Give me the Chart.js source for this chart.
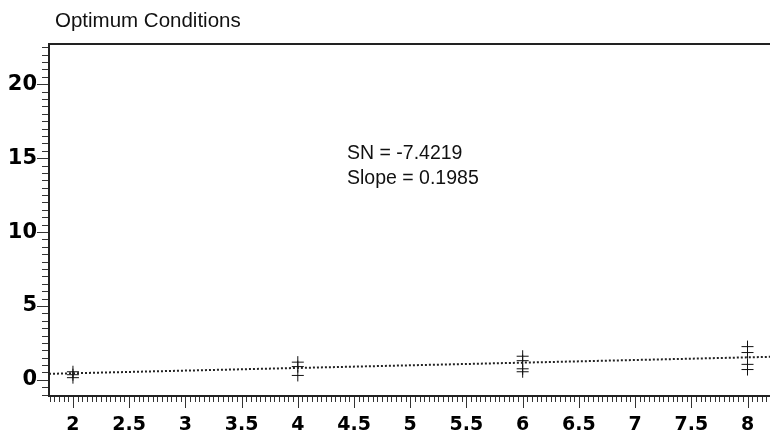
<!DOCTYPE html>
<html>
<head>
<meta charset="utf-8">
<script src="https://cdn.jsdelivr.net/npm/chart.js@4.4.0/dist/chart.umd.min.js"></script>
<style>
  body { margin: 0; background: #fff; overflow: hidden; }
  canvas { display: block; }
</style>
</head>
<body>
<canvas id="chart" width="770" height="438"></canvas>
<script>
const chartTitle = 'Optimum Conditions';
const noteLines = ['SN = -7.4219', 'Slope = 0.1985'];

// observations: dose level and measured response
const doses = [2, 2, 2, 4, 4, 4, 6, 6, 6, 6, 8, 8, 8, 8];
const responses = [0.55, 0.35, 0.15, 1.2, 0.9, 0.3, 1.6, 1.3, 0.75, 0.55, 2.25, 1.85, 1.05, 0.7];

// fitted line, read at the left and right edge of the plot
const trendX = [1.787, 8.2];
const trendY = [0.41, 1.56];

const xMin = 1.787, xMax = 8.2;
const yMin = -1.09, yMax = 22.72;

const points = doses.map((d, i) => ({ x: d, y: responses[i] }));
const trend = trendX.map((x, i) => ({ x: x, y: trendY[i] }));

const tickFont = '"DejaVu Sans", Verdana, sans-serif';
const textFont = '"Liberation Sans", Arial, sans-serif';

const frame = {
    id: 'frame',
    afterDraw(chart) {
        const ctx = chart.ctx;
        const area = chart.chartArea;
        const xs = chart.scales.x;
        const ys = chart.scales.y;
        ctx.save();

        // top border
        ctx.strokeStyle = '#222';
        ctx.lineWidth = 2;
        ctx.beginPath();
        ctx.moveTo(area.left - 1, area.top);
        ctx.lineTo(area.right, area.top);
        ctx.stroke();

        // y ticks every 0.5, long every 5
        ctx.lineWidth = 1;
        ctx.strokeStyle = '#333';
        for (let i = Math.ceil(yMin * 2); i <= Math.floor(yMax * 2); i++) {
            const py = Math.round(ys.getPixelForValue(i / 2)) + 0.5;
            const len = i % 10 === 0 ? 11 : 6;
            ctx.beginPath();
            ctx.moveTo(area.left - 1 - len, py);
            ctx.lineTo(area.left - 1, py);
            ctx.stroke();
        }

        // x ticks, 12 per half unit, long every 0.5
        for (let i = Math.ceil(xMin * 24); i <= Math.floor(xMax * 24); i++) {
            const px = Math.round(xs.getPixelForValue(i / 24)) + 0.5;
            const len = i % 12 === 0 ? 11 : 5;
            ctx.beginPath();
            ctx.moveTo(px, area.bottom + 1);
            ctx.lineTo(px, area.bottom + 1 + len);
            ctx.stroke();
        }

        // title
        ctx.fillStyle = '#111';
        ctx.font = '20.5px ' + textFont;
        ctx.textAlign = 'left';
        ctx.textBaseline = 'alphabetic';
        ctx.fillText(chartTitle, 55, 27);

        // annotation
        ctx.font = '19.5px ' + textFont;
        ctx.fillText(noteLines[0], 347, 159);
        ctx.fillText(noteLines[1], 347, 184);
        ctx.restore();
    }
};

new Chart(document.getElementById('chart'), {
    type: 'scatter',
    data: {
        datasets: [
            {
                label: 'Fit',
                type: 'line',
                data: trend,
                borderColor: '#222',
                borderWidth: 2,
                borderDash: [2, 2],
                pointRadius: 0,
                fill: false
            },
            {
                label: 'Observed',
                data: points,
                pointStyle: 'cross',
                pointRadius: 6,
                borderColor: '#111',
                backgroundColor: '#111',
                borderWidth: 1
            }
        ]
    },
    options: {
        responsive: false,
        animation: false,
        layout: { autoPadding: false, padding: { top: 44, right: 0, left: 0, bottom: 0 } },
        plugins: {
            legend: { display: false },
            tooltip: { enabled: false }
        },
        scales: {
            x: {
                type: 'linear',
                min: xMin,
                max: xMax,
                grid: { display: false },
                border: { display: true, color: '#222', width: 2 },
                ticks: {
                    stepSize: 0.5,
                    includeBounds: false,
                    autoSkip: false,
                    maxRotation: 0,
                    padding: 10,
                    color: '#000',
                    font: { family: tickFont, size: 19, weight: 'bold' },
                    callback: (v) => String(Math.round(v * 10) / 10)
                },
                afterFit(scale) {
                    scale.height = 42;
                    scale.paddingRight = 0;
                }
            },
            y: {
                min: yMin,
                max: yMax,
                grid: { display: false },
                border: { display: true, color: '#222', width: 2 },
                ticks: {
                    stepSize: 5,
                    includeBounds: false,
                    padding: 4,
                    color: '#000',
                    font: { family: tickFont, size: 21, weight: 'bold' }
                },
                afterFit(scale) {
                    scale.width = 49;
                    scale.paddingTop = 0;
                }
            }
        }
    },
    plugins: [frame]
});
</script>
</body>
</html>
